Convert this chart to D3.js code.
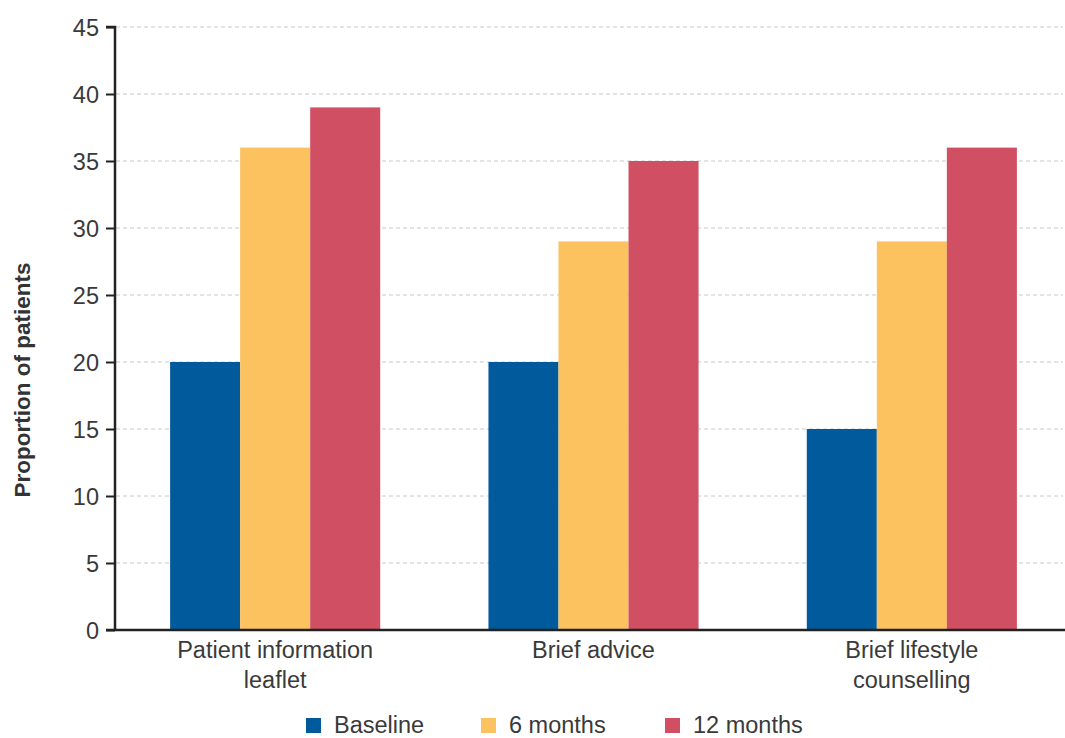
<!DOCTYPE html>
<html><head><meta charset="utf-8">
<script src="https://cdn.jsdelivr.net/npm/d3@7"></script>
<style>body{margin:0;background:#fff;font-family:"Liberation Sans",Arial,sans-serif;}</style>
</head><body>
<svg id="chart" width="1065" height="738"></svg>
<script>
const categories = [["Patient information","leaflet"],["Brief advice"],["Brief lifestyle","counselling"]];
const seriesNames = ["Baseline","6 months","12 months"];
const baseline = [20, 20, 15];
const sixMonths = [36, 29, 29];
const twelveMonths = [39, 35, 36];
const yTicks = [0,5,10,15,20,25,30,35,40,45];
const colors = ["#005a9c","#fcc25f","#d14f62"];

const series = [baseline, sixMonths, twelveMonths];
const svg = d3.select("#chart");
const y = d3.scaleLinear().domain([0,45]).range([630,27]);
const x0 = d3.scaleBand().domain(d3.range(categories.length)).range([116,1071]).paddingInner(0.34).paddingOuter(0.17);
const x1 = d3.scaleBand().domain(d3.range(series.length)).range([0,x0.bandwidth()]);
const textColor = "#3a3a3a";
const fs = 23.5;

// gridlines
svg.append("g").selectAll("line").data(yTicks.filter(d=>d>0)).join("line")
  .attr("x1",116).attr("x2",1063).attr("y1",d=>y(d)).attr("y2",d=>y(d))
  .attr("stroke","#c8c8c8").attr("stroke-width",1).attr("stroke-dasharray","4,3");

// bars
const g = svg.append("g");
categories.forEach((c,i)=>{
  series.forEach((s,j)=>{
    g.append("rect").attr("x",x0(i)+x1(j)).attr("width",x1.bandwidth())
      .attr("y",y(s[i])).attr("height",y(0)-y(s[i])).attr("fill",colors[j]);
  });
});

// y axis
const yAxis = d3.axisLeft(y).tickValues(yTicks).tickSize(9).tickPadding(7);
const ya = svg.append("g").attr("transform","translate(115,0)").call(yAxis);
ya.select(".domain").attr("stroke","#222").attr("stroke-width",2.5).attr("d","M-9,27H0V630");
ya.selectAll(".tick line").attr("stroke","#222").attr("stroke-width",2);
ya.selectAll(".tick text").attr("font-size",fs).attr("fill",textColor).attr("font-family","Liberation Sans, Arial, sans-serif").attr("dy","0.35em");

// x axis line
svg.append("line").attr("x1",106).attr("x2",1065).attr("y1",630).attr("y2",630).attr("stroke","#222").attr("stroke-width",2.5);

// category labels
categories.forEach((c,i)=>{
  const cx = x0(i)+x0.bandwidth()/2;
  const t = svg.append("text").attr("x",cx).attr("y",658)
    .attr("text-anchor","middle").attr("font-size",fs).attr("fill",textColor);
  c.forEach((line,k)=>{
    t.append("tspan").attr("x",cx).attr("dy",k===0?0:30).text(line);
  });
});

// y label
svg.append("text").attr("transform","translate(30,380) rotate(-90)").attr("text-anchor","middle")
  .attr("font-size",22.5).attr("font-weight","bold").attr("fill","#333").text("Proportion of patients");

// legend
const legendX = [306, 481, 665];
seriesNames.forEach((n,j)=>{
  svg.append("rect").attr("x",legendX[j]).attr("y",718).attr("width",15).attr("height",15).attr("fill",colors[j]);
  svg.append("text").attr("x",legendX[j]+28).attr("y",733).attr("font-size",fs).attr("fill",textColor).text(n);
});
</script>
</body></html>
